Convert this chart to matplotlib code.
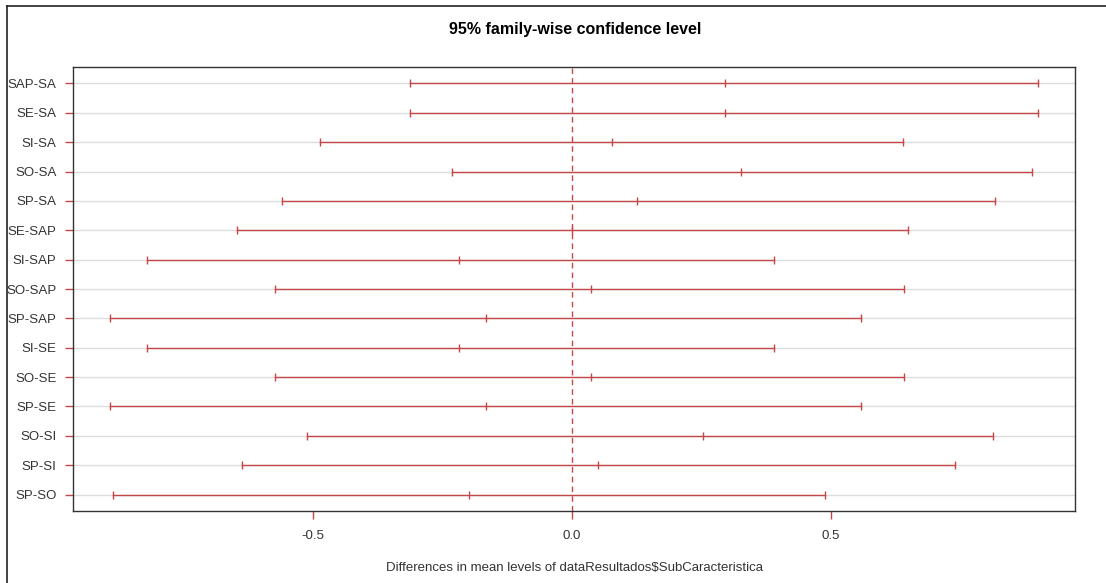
import matplotlib.pyplot as plt
from matplotlib.lines import Line2D

# comparisons, listed bottom to top (as R's TukeyHSD plot stacks them)
comparisons = ["SP-SO", "SP-SI", "SO-SI", "SP-SE", "SO-SE", "SI-SE", "SP-SAP",
               "SO-SAP", "SI-SAP", "SE-SAP", "SP-SA", "SO-SA", "SI-SA", "SE-SA", "SAP-SA"]
diff = [-0.199, 0.050, 0.253, -0.166, 0.037, -0.218, -0.166,
        0.037, -0.218, 0.000, 0.125, 0.326, 0.077, 0.295, 0.295]
lwr = [-0.886, -0.637, -0.512, -0.892, -0.573, -0.820, -0.892,
       -0.573, -0.820, -0.647, -0.560, -0.232, -0.486, -0.313, -0.313]
upr = [0.488, 0.739, 0.813, 0.558, 0.641, 0.390, 0.558,
       0.641, 0.390, 0.649, 0.817, 0.888, 0.639, 0.900, 0.900]

RED = "#c44848"
GRID = "#dcdcdc"
plt.rcParams["font.family"] = ["Liberation Sans", "DejaVu Sans"]

fig = plt.figure(figsize=(11.06, 5.83), dpi=100)
ax = fig.add_axes([0.066, 0.1235, 0.906, 0.7615])

ypos = list(range(1, len(comparisons) + 1))

# light gray guide line on each row
for y in ypos:
    ax.axhline(y, color=GRID, lw=1, zorder=1)

for y, lo, d, hi in zip(ypos, lwr, diff, upr):
    ax.plot([lo, hi], [y, y], color=RED, lw=1, zorder=2)
    ax.plot([lo, d, hi], [y, y, y], ls="none", marker="|", ms=6,
            mew=1, color=RED, zorder=3)

ax.axvline(0, color=RED, lw=1, ls=(0, (4, 3)), zorder=2)

# R style: 4% padding on each side
xmin, xmax = min(lwr), max(upr)
pad = 0.04 * (xmax - xmin)
ax.set_xlim(xmin - pad, xmax + pad)
pad_y = 0.04 * (len(comparisons) - 1)
ax.set_ylim(1 - pad_y, len(comparisons) + pad_y)

ax.set_yticks(ypos)
ax.set_yticklabels(comparisons, fontsize=9.5, color="#333333")
ax.set_xticks([-0.5, 0.0, 0.5])
ax.set_xticklabels(["-0.5", "0.0", "0.5"], fontsize=9.5, color="#333333")
ax.tick_params(axis="both", color=RED, length=6, width=1, direction="out")
ax.tick_params(axis="y", pad=6)
ax.tick_params(axis="x", pad=8)

for s in ax.spines.values():
    s.set_color("#333333")
    s.set_linewidth(1)

ax.set_xlabel("Differences in mean levels of dataResultados$SubCaracteristica",
              fontsize=9.5, color="#333333", labelpad=14)
fig.text(0.52, 0.949, "95% family-wise confidence level", ha="center",
         va="center", fontsize=11.5, fontweight="bold")

# outer frame left from the original device (top and left edges)
fig.add_artist(Line2D([7 / 1106, 1], [1 - 6 / 583, 1 - 6 / 583],
                      transform=fig.transFigure, color="#222222", lw=1.2))
fig.add_artist(Line2D([7 / 1106, 7 / 1106], [0, 1 - 6 / 583],
                      transform=fig.transFigure, color="#222222", lw=1.2))

fig.savefig("out.png", dpi=100)
